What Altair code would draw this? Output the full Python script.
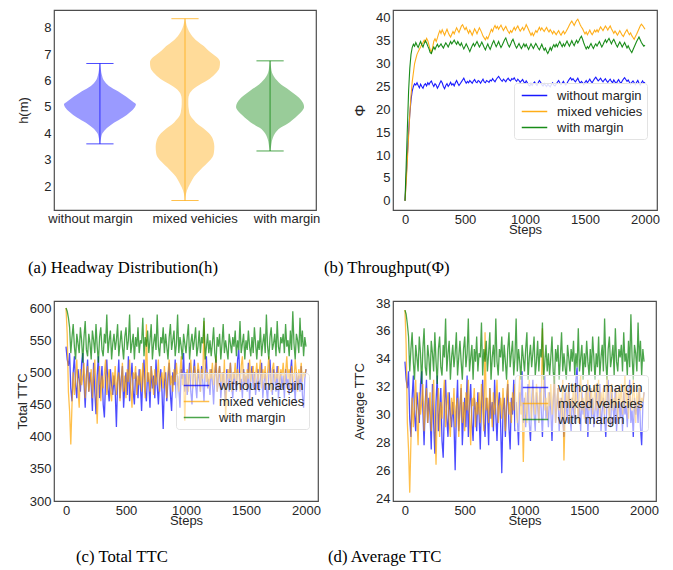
import altair as alt
import pandas as pd

# ---------------- data ----------------
SERIES = ["without margin", "mixed vehicies", "with margin"]
LINE_COLORS = ["#0000ff", "#ffa500", "#008000"]
FILL_COLORS = ["#9a9aff", "#ffdb99", "#99cc99"]
STEPS = list(range(0, 2001, 10))
X_TICKS = [0, 500, 1000, 1500, 2000]

# (a) violin profiles: headway value and relative half-width (density)
VIO_POS = [1, 2, 3]
VIO_LABEL_POS = [0.89, 2.12, 3.2]
VIO_H_BLUE = [3.6, 3.8, 4.0, 4.2, 4.4, 4.6, 4.8, 5.0, 5.1, 5.2, 5.4, 5.6, 5.8, 6.0, 6.2, 6.4, 6.65]
VIO_W_BLUE = [0.3, 1, 2.5, 7, 14, 23, 30, 35, 36, 33, 26, 18, 9, 4, 2, 1, 0.3]
VIO_H_ORANGE = [1.45, 1.7, 1.95, 2.15, 2.35, 2.5, 2.7, 2.9, 3.1, 3.3, 3.5, 3.7, 3.85, 4.0, 4.2,
                4.35, 4.5, 4.7, 4.9, 5.1, 5.3, 5.5, 5.7, 5.85, 6.0, 6.25, 6.5, 6.7, 6.85, 7.0,
                7.15, 7.3, 7.5, 7.75, 8.0, 8.2, 8.35]
VIO_W_ORANGE = [0.3, 1, 3.3, 6, 9, 12.5, 17.5, 23, 27.5, 29, 29.3, 28.5, 27, 24, 18,
                12.5, 9, 5, 3.8, 3.3, 3.3, 4.5, 9, 15, 22, 30, 34.5, 35, 33, 28,
                23, 19, 12, 6, 2.5, 1, 0.3]
VIO_H_GREEN = [3.33, 3.5, 3.7, 3.85, 4.0, 4.2, 4.35, 4.5, 4.7, 4.85, 5.0, 5.15, 5.35, 5.5,
               5.7, 5.85, 6.0, 6.15, 6.3, 6.5, 6.75]
VIO_W_GREEN = [0.3, 1, 1.8, 3, 5, 10, 17, 22, 28, 32, 34, 33, 29, 24, 17, 11, 7, 4, 2, 1, 0.3]
VIO_MIN = [3.6, 1.45, 3.33]
VIO_MAX = [6.65, 8.35, 6.75]

# (b) throughput
THR_BLUE = [
    0, 5, 10, 15, 19, 22, 24, 25, 25.6, 25.3, 25.8, 25.2, 24.7, 25.5, 25.0, 24.6, 25.3, 25.6, 25.1, 25.8,
    25.4, 25.9, 26.2, 25.5, 25.0, 25.6, 25.3, 24.6, 25.1, 25.7, 26.2, 25.8, 25.0, 24.5, 25.2, 25.6, 25.0, 25.4, 25.9, 25.3,
    25.6, 25.1, 25.8, 26.3, 25.7, 25.2, 25.6, 26.0, 26.4, 26.8, 26.2, 25.7, 26.1, 25.8, 26.3, 26.0, 25.7, 26.2, 26.5, 26.0,
    25.8, 26.3, 26.1, 25.7, 26.2, 26.6, 26.0, 25.8, 26.3, 26.1, 25.9, 26.4, 26.2, 26.7, 26.3, 26.0, 26.5, 26.9, 27.2, 26.8,
    26.4, 26.1, 26.6, 26.3, 26.0, 26.5, 26.8, 26.4, 26.2, 26.7, 26.5, 26.9, 26.4, 26.1, 26.6, 26.3, 25.9, 26.2, 26.5, 26.0,
    25.7, 26.2, 25.8, 25.3, 25.1, 25.6, 25.2, 25.7, 26.0, 25.5, 25.2, 25.8, 26.3, 25.9, 25.4, 25.1, 25.6, 25.3, 25.0, 25.5,
    25.2, 24.9, 25.4, 25.8, 25.3, 25.1, 25.5, 25.9, 26.3, 25.8, 25.4, 25.7, 26.1, 25.6, 25.3, 25.7, 26.2, 26.6, 26.9, 26.4,
    26.7, 26.3, 26.0, 26.4, 26.8, 26.2, 25.7, 26.1, 25.8, 25.4, 25.9, 26.3, 25.8, 26.2, 26.6, 26.1, 25.8, 26.3, 26.7, 27.0,
    26.6, 26.2, 26.5, 26.8, 26.3, 26.0, 26.4, 26.7, 26.2, 25.9, 26.3, 26.6, 26.1, 25.8, 26.4, 26.0, 25.6, 26.1, 26.5, 26.0,
    25.7, 26.2, 26.6, 26.9, 26.5, 26.1, 26.4, 25.9, 25.5, 25.9, 26.2, 25.8, 25.4, 25.9, 26.3, 25.7, 25.3, 25.8, 26.2, 25.7,
    25.9]
THR_ORANGE = [
    0, 4, 9, 14, 19, 23, 26, 28, 30, 31, 32, 32.6, 33.1, 33.6, 34.2, 34.6, 35.1, 34.7, 35.5, 35.0,
    34.0, 33.0, 32.4, 33.5, 34.9, 35.4, 34.8, 35.6, 36.5, 37.2, 36.6, 37.4, 36.8, 36.2, 36.9, 37.5, 36.8, 36.2, 35.8, 36.4,
    37.0, 36.5, 37.2, 37.8, 37.3, 36.8, 37.5, 38.2, 38.5, 37.9, 37.4, 37.9, 37.2, 36.6, 37.3, 36.8, 36.2, 36.9, 37.6, 37.1,
    36.5, 37.2, 37.8, 37.3, 36.7, 36.0, 35.6, 35.2, 35.8, 35.4, 36.1, 36.8, 37.5, 37.0, 37.8, 38.3, 37.7, 38.1, 37.5, 38.0,
    38.4, 37.8, 37.2, 37.7, 38.1, 37.5, 37.0, 36.6, 37.2, 36.8, 37.4, 37.9, 37.3, 37.8, 38.2, 37.6, 37.1, 37.5, 37.9, 37.3,
    37.8, 38.5, 38.0, 37.4, 36.8, 36.2, 36.7, 36.1, 36.6, 37.2, 36.8, 37.4, 37.9, 37.3, 37.8, 37.4, 37.0, 37.5, 37.9, 37.3,
    36.9, 37.4, 37.0, 36.5, 37.1, 36.7, 36.3, 36.8, 37.2, 36.6, 36.2, 36.7, 37.1, 36.5, 36.9, 37.4, 37.9, 38.4, 38.9, 39.3,
    38.8, 38.3, 38.9, 39.4, 39.7, 39.1, 38.5, 38.0, 37.6, 37.0, 36.5, 36.9, 36.3, 36.8, 37.3, 36.7, 36.3, 36.8, 37.3, 36.9,
    37.4, 36.9, 37.5, 38.0, 37.6, 37.2, 37.7, 38.2, 37.8, 37.3, 37.8, 38.2, 37.6, 37.1, 36.6, 37.1, 36.7, 36.2, 36.7, 37.2,
    36.7, 36.2, 35.9, 36.5, 37.0, 37.4, 36.8, 36.3, 36.7, 36.1, 35.7, 35.3, 35.9, 36.4, 37.0, 37.6, 38.2, 38.6, 38.3, 37.9,
    37.5]
THR_GREEN = [
    0, 8, 16, 24, 29, 32, 33.5, 34.2, 33.8, 34.6, 34.0, 33.5, 34.2, 34.8, 34.1, 33.6, 34.4, 35.0, 34.5, 33.8,
    33.2, 32.4, 32.2, 33.0, 33.6, 33.1, 33.7, 34.2, 33.6, 33.9, 34.3, 33.8, 33.4, 34.0, 34.5, 34.1, 33.6, 34.2, 34.8, 34.3,
    34.7, 35.1, 34.6, 34.2, 34.8, 34.3, 33.9, 34.5, 33.8, 33.2, 33.7, 34.3, 33.8, 33.2, 32.6, 33.3, 33.9, 34.4, 33.8, 34.3,
    34.8, 34.2, 33.6, 34.1, 34.7, 34.1, 33.5, 33.0, 33.7, 34.3, 33.6, 33.1, 33.8, 34.5, 35.0, 34.3, 33.7, 34.2, 34.8, 34.1,
    33.5, 34.0, 34.6, 35.2, 35.6, 34.8, 34.1, 33.6, 34.2, 34.9, 35.3, 34.6, 33.9, 33.4, 33.9, 34.4, 33.8, 33.3, 33.8, 34.3,
    33.7, 34.2, 33.6, 33.1, 33.7, 34.3, 33.8, 33.3, 33.9, 34.4, 33.9, 33.4, 33.0, 33.6, 34.2, 33.5, 32.9, 33.4, 32.7, 32.2,
    32.8, 33.5, 32.9, 33.6, 34.1, 33.6, 34.2, 33.7, 34.3, 34.8, 34.2, 33.7, 34.3, 33.8, 34.4, 34.9, 34.3, 33.8, 34.4, 35.0,
    34.4, 33.9, 34.6, 35.1, 34.5, 35.0, 35.6, 36.0, 35.3, 34.5, 33.8, 33.2, 33.7, 33.3, 33.9, 34.4, 33.8, 33.3, 33.9, 34.3,
    33.8, 34.3, 34.8, 34.2, 33.6, 34.1, 34.7, 35.2, 34.6, 35.1, 35.5, 34.9, 34.3, 34.9, 35.3, 34.7, 34.1, 33.6, 34.2, 34.7,
    34.2, 33.6, 34.1, 34.6, 34.0, 33.4, 33.9, 33.3, 32.8, 32.4, 33.0, 33.6, 34.2, 34.8, 35.3, 35.8, 35.2, 34.6, 34.2, 33.8,
    34.0]

# (c) total TTC
TOT_BLUE = [
    540, 520, 510, 530, 475, 455, 500, 525, 480, 460, 505, 490, 470, 515, 530, 485, 445, 495, 520, 470,
    500, 480, 440, 515, 470, 435, 495, 525, 460, 485, 510, 450, 430, 490, 520, 475, 455, 505, 480, 465,
    495, 470, 415, 485, 520, 460, 490, 510, 445, 480, 500, 465, 525, 455, 490, 515, 470, 450, 500, 485,
    460, 505, 480, 440, 495, 520, 470, 455, 500, 485, 445, 510, 475, 495, 460, 520, 480, 450, 490, 505,
    470, 412, 485, 500, 455, 490, 515, 465, 440, 500, 480, 520, 460, 495, 475, 445, 505, 490, 530, 470,
    500, 465, 485, 515, 470, 450, 495, 520, 480, 460, 505, 490, 470, 510, 485, 455, 500, 525, 475, 490,
    465, 505, 485, 450, 495, 520, 470, 490, 510, 460, 485, 500, 475, 455, 505, 490, 470, 515, 480, 460,
    500, 485, 470, 520, 535, 475, 490, 460, 505, 480, 495, 470, 515, 455, 490, 510, 475, 500, 465, 485,
    505, 470, 490, 515, 460, 485, 500, 475, 455, 495, 520, 480, 465, 505, 490, 470, 510, 460, 485, 500,
    475, 495, 460, 505, 480, 490, 465, 500, 520, 470, 485, 455, 500, 480, 495, 470, 510, 465, 445, 490,
    505]
TOT_ORANGE = [
    600, 560, 470, 440, 388, 450, 500, 465, 490, 520, 475, 445, 505, 480, 495, 515, 460, 490, 510, 470,
    485, 505, 460, 495, 520, 470, 420, 485, 510, 455, 495, 475, 500, 520, 465, 490, 505, 470, 455, 500,
    480, 510, 465, 490, 500, 455, 485, 515, 470, 495, 460, 505, 485, 520, 475, 445, 500, 490, 510, 465,
    495, 480, 505, 470, 515, 490, 460, 575, 485, 500, 470, 510, 490, 465, 505, 480, 495, 520, 470, 490,
    500, 475, 510, 485, 460, 500, 520, 480, 495, 470, 505, 485, 515, 490, 470, 500, 525, 480, 495, 425,
    485, 505, 470, 500, 520, 490, 475, 510, 495, 480, 515, 500, 470, 505, 490, 580, 510, 485, 500, 475,
    505, 490, 515, 480, 500, 525, 470, 495, 510, 485, 500, 475, 520, 427, 480, 505, 490, 515, 470, 500,
    490, 515, 480, 505, 495, 470, 510, 525, 485, 500, 475, 505, 490, 520, 485, 500, 510, 480, 495, 515,
    485, 500, 520, 475, 505, 490, 510, 480, 500, 525, 495, 470, 505, 515, 485, 500, 490, 510, 475, 505,
    495, 515, 480, 500, 525, 490, 505, 475, 510, 495, 485, 520, 500, 470, 505, 490, 515, 485, 500, 495,
    505]
TOT_GREEN = [
    600, 595, 585, 570, 530, 555, 575, 540, 520, 560, 545, 530, 570, 550, 515, 555, 580, 535, 525, 560,
    545, 520, 565, 550, 530, 575, 540, 515, 555, 570, 535, 525, 560, 545, 590, 530, 550, 565, 520, 545,
    560, 535, 550, 575, 525, 545, 565, 540, 520, 555, 570, 535, 550, 590, 530, 545, 560, 520, 555, 540,
    570, 530, 550, 545, 585, 525, 555, 540, 565, 530, 550, 575, 520, 545, 560, 535, 590, 540, 525, 555,
    545, 570, 530, 560, 540, 520, 555, 575, 535, 550, 565, 525, 545, 590, 530, 555, 540, 520, 560, 545,
    530, 555, 575, 520, 545, 560, 535, 550, 570, 525, 540, 565, 530, 555, 545, 585, 520, 540, 560, 530,
    550, 525, 545, 570, 530, 515, 555, 540, 560, 520, 545, 575, 530, 550, 535, 520, 560, 545, 530, 555,
    540, 565, 525, 550, 535, 580, 530, 545, 560, 520, 550, 535, 565, 540, 525, 555, 530, 570, 545, 520,
    550, 535, 570, 525, 545, 560, 530, 590, 540, 520, 555, 570, 535, 545, 560, 525, 580, 540, 530, 555,
    545, 560, 530, 575, 540, 550, 525, 565, 535, 595, 545, 520, 560, 550, 530, 585, 540, 565, 525, 555,
    540]

# (d) average TTC
AVG_BLUE = [
    33.8, 32.5, 31.9, 33.1, 29.7, 28.4, 31.2, 32.8, 30.0, 28.8, 31.6, 30.6, 29.4, 32.2, 33.1, 30.3, 27.8, 30.9, 32.5, 29.4,
    31.2, 30.0, 27.5, 32.2, 29.4, 27.2, 30.9, 32.8, 28.8, 30.3, 31.9, 28.1, 26.9, 30.6, 32.5, 29.7, 28.4, 31.6, 30.0, 29.1,
    30.9, 29.4, 26.0, 30.3, 32.5, 28.8, 30.6, 31.9, 27.8, 30.0, 31.2, 29.1, 32.8, 28.4, 30.6, 32.2, 29.4, 28.1, 31.2, 30.3,
    28.8, 31.6, 30.0, 27.5, 30.9, 32.5, 29.4, 28.4, 31.2, 30.3, 27.8, 31.9, 29.7, 30.9, 28.8, 32.5, 30.0, 28.1, 30.6, 31.6,
    29.4, 25.8, 30.3, 31.2, 28.4, 30.6, 32.2, 29.1, 27.5, 31.2, 30.0, 32.5, 28.8, 30.9, 29.7, 27.8, 31.6, 30.6, 33.1, 29.4,
    31.2, 29.1, 30.3, 32.2, 29.4, 28.1, 30.9, 32.5, 30.0, 28.8, 31.6, 30.6, 29.4, 31.9, 30.3, 28.4, 31.2, 32.8, 29.7, 30.6,
    29.1, 31.6, 30.3, 28.1, 30.9, 32.5, 29.4, 30.6, 31.9, 28.8, 30.3, 31.2, 29.7, 28.4, 31.6, 30.6, 29.4, 32.2, 30.0, 28.8,
    31.2, 30.3, 29.4, 32.5, 33.4, 29.7, 30.6, 28.8, 31.6, 30.0, 30.9, 29.4, 32.2, 28.4, 30.6, 31.9, 29.7, 31.2, 29.1, 30.3,
    31.6, 29.4, 30.6, 32.2, 28.8, 30.3, 31.2, 29.7, 28.4, 30.9, 32.5, 30.0, 29.1, 31.6, 30.6, 29.4, 31.9, 28.8, 30.3, 31.2,
    29.7, 30.9, 28.8, 31.6, 30.0, 30.6, 29.1, 31.2, 32.5, 29.4, 30.3, 28.4, 31.2, 30.0, 30.9, 29.4, 31.9, 29.1, 27.8, 30.6,
    31.6]
AVG_ORANGE = [
    37.5, 35.0, 29.4, 27.5, 24.4, 28.1, 31.2, 29.1, 30.6, 32.5, 29.7, 27.8, 31.6, 30.0, 30.9, 32.2, 28.8, 30.6, 31.9, 29.4,
    30.3, 31.6, 28.8, 30.9, 32.5, 29.4, 26.4, 30.3, 31.9, 28.4, 30.9, 29.7, 31.2, 32.5, 29.1, 30.6, 31.6, 29.4, 28.4, 31.2,
    30.0, 31.9, 29.1, 30.6, 31.2, 28.4, 30.3, 32.2, 29.4, 30.9, 28.8, 31.6, 30.3, 32.5, 29.7, 27.8, 31.2, 30.6, 31.9, 29.1,
    30.9, 30.0, 31.6, 29.4, 32.2, 30.6, 28.8, 35.9, 30.3, 31.2, 29.4, 31.9, 30.6, 29.1, 31.6, 30.0, 30.9, 32.5, 29.4, 30.6,
    31.2, 29.7, 31.9, 30.3, 28.8, 31.2, 32.5, 30.0, 30.9, 29.4, 31.6, 30.3, 32.2, 30.6, 29.4, 31.2, 32.8, 30.0, 30.9, 26.6,
    30.3, 31.6, 29.4, 31.2, 32.5, 30.6, 29.7, 31.9, 30.9, 30.0, 32.2, 31.2, 29.4, 31.6, 30.6, 36.2, 31.9, 30.3, 31.2, 29.7,
    31.6, 30.6, 32.2, 30.0, 31.2, 32.8, 29.4, 30.9, 31.9, 30.3, 31.2, 29.7, 32.5, 26.7, 30.0, 31.6, 30.6, 32.2, 29.4, 31.2,
    30.6, 32.2, 30.0, 31.6, 30.9, 29.4, 31.9, 32.8, 30.3, 31.2, 29.7, 31.6, 30.6, 32.5, 30.3, 31.2, 31.9, 30.0, 30.9, 32.2,
    30.3, 31.2, 32.5, 29.7, 31.6, 30.6, 31.9, 30.0, 31.2, 32.8, 30.9, 29.4, 31.6, 32.2, 30.3, 31.2, 30.6, 31.9, 29.7, 31.6,
    30.9, 32.2, 30.0, 31.2, 32.8, 30.6, 31.6, 29.7, 31.9, 30.9, 30.3, 32.5, 31.2, 29.4, 31.6, 30.6, 32.2, 30.3, 31.2, 30.9,
    31.6]
AVG_GREEN = [
    37.5, 37.2, 36.5, 35.6, 33.1, 34.7, 35.9, 33.8, 32.5, 35.0, 34.1, 33.1, 35.6, 34.4, 32.2, 34.7, 36.2, 33.4, 32.8, 35.0,
    34.1, 32.5, 35.3, 34.4, 33.1, 35.9, 33.8, 32.2, 34.7, 35.6, 33.4, 32.8, 35.0, 34.1, 36.9, 33.1, 34.4, 35.3, 32.5, 34.1,
    35.0, 33.4, 34.4, 35.9, 32.8, 34.1, 35.3, 33.8, 32.5, 34.7, 35.6, 33.4, 34.4, 36.9, 33.1, 34.1, 35.0, 32.5, 34.7, 33.8,
    35.6, 33.1, 34.4, 34.1, 36.6, 32.8, 34.7, 33.8, 35.3, 33.1, 34.4, 35.9, 32.5, 34.1, 35.0, 33.4, 36.9, 33.8, 32.8, 34.7,
    34.1, 35.6, 33.1, 35.0, 33.8, 32.5, 34.7, 35.9, 33.4, 34.4, 35.3, 32.8, 34.1, 36.9, 33.1, 34.7, 33.8, 32.5, 35.0, 34.1,
    33.1, 34.7, 35.9, 32.5, 34.1, 35.0, 33.4, 34.4, 35.6, 32.8, 33.8, 35.3, 33.1, 34.7, 34.1, 36.6, 32.5, 33.8, 35.0, 33.1,
    34.4, 32.8, 34.1, 35.6, 33.1, 32.2, 34.7, 33.8, 35.0, 32.5, 34.1, 35.9, 33.1, 34.4, 33.4, 32.5, 35.0, 34.1, 33.1, 34.7,
    33.8, 35.3, 32.8, 34.4, 33.4, 36.2, 33.1, 34.1, 35.0, 32.5, 34.4, 33.4, 35.3, 33.8, 32.8, 34.7, 33.1, 35.6, 34.1, 32.5,
    34.4, 33.4, 35.6, 32.8, 34.1, 35.0, 33.1, 36.9, 33.8, 32.5, 34.7, 35.6, 33.4, 34.1, 35.0, 32.8, 36.2, 33.8, 33.1, 34.7,
    34.1, 35.0, 33.1, 35.9, 33.8, 34.4, 32.8, 35.3, 33.4, 37.2, 34.1, 32.5, 35.0, 34.4, 33.1, 36.6, 33.8, 35.3, 32.8, 34.7,
    33.8]

CAPTIONS = ["(a) Headway Distribution(h)", "(b) Throughput(\u03a6)", "(c) Total TTC", "(d) Average TTC"]

# ---------------- styling ----------------
SANS = "Liberation Sans"
SERIF = "Liberation Serif"
TXT = "#262626"


def long_df(arrays):
    rows = []
    for name, arr in zip(SERIES, arrays):
        assert len(arr) == len(STEPS), (name, len(arr))
        for s, v in zip(STEPS, arr):
            rows.append({"step": s, "value": v, "series": name})
    return pd.DataFrame(rows)


def caption_layer(text, cx, cy):
    return alt.Chart(pd.DataFrame({"caption": [text]})).mark_text(
        align="left", baseline="middle", font=SERIF, fontSize=16.7, color="black"
    ).encode(x=alt.value(cx), y=alt.value(cy), text="caption:N")


def ts_panel(df, ydomain, yticks, ytitle, ytitle_size, ytitle_x, caption, cap_x, cap_y,
             leg_x, leg_y, leg_fill, opacity, stroke_w, w, h):
    color = alt.Color(
        "series:N",
        scale=alt.Scale(domain=SERIES, range=LINE_COLORS),
        legend=alt.Legend(
            title=None, orient="none", legendX=leg_x, legendY=leg_y,
            symbolType="M-1.7,0H1.7", symbolSize=225, symbolStrokeWidth=1.5,
            symbolOffset=8, symbolFillColor="transparent",
            labelFont=SANS, labelFontSize=13, labelColor=TXT, labelOffset=14,
            padding=4, rowPadding=0, fillColor=leg_fill, strokeColor="#e3e3e3",
            cornerRadius=3,
        ),
    )
    base = alt.Chart(df).mark_line(strokeWidth=stroke_w, opacity=opacity).encode(
        x=alt.X("step:Q", scale=alt.Scale(domain=[-100, 2100], nice=False, zero=False),
                axis=alt.Axis(values=X_TICKS, format="d", title="Steps", titleX=w / 2, titleY=19.5,
                              titleBaseline="middle", titleFontWeight="normal")),
        y=alt.Y("value:Q", scale=alt.Scale(domain=ydomain, nice=False, zero=False),
                axis=alt.Axis(values=yticks, title=ytitle, titleFontSize=ytitle_size,
                              titleFontWeight="normal",
                              titleX=ytitle_x, titleY=h / 2, titleBaseline="middle",
                              titleAngle=-90)),
        color=color,
    )
    layers = [base.transform_filter(alt.datum.series == s) for s in SERIES]
    return alt.layer(*layers, caption_layer(caption, cap_x, cap_y)).properties(width=w, height=h)


# ---------------- (a) violin ----------------
vio_rows = []
for cat, pos, hs, ws in zip(SERIES, VIO_POS, [VIO_H_BLUE, VIO_H_ORANGE, VIO_H_GREEN],
                            [VIO_W_BLUE, VIO_W_ORANGE, VIO_W_GREEN]):
    for hv, wv in zip(hs, ws):
        vio_rows.append({"cat": cat, "pos": pos, "h": hv, "w": wv})
vio_df = pd.DataFrame(vio_rows)
ext_df = pd.DataFrame({"cat": SERIES, "pos": VIO_POS, "hmin": VIO_MIN, "hmax": VIO_MAX})
lab_df = pd.DataFrame({"cat": SERIES, "x": VIO_LABEL_POS})

WA, HA = 262, 200
x_scale_a = alt.Scale(domain=[0.46, 3.54], nice=False, zero=False)
xa = alt.X("x:Q", scale=x_scale_a, axis=alt.Axis(values=VIO_POS, labels=False, title=None))
ya_scale = alt.Scale(domain=[1.09, 8.68], nice=False, zero=False)
ya_axis = alt.Axis(values=[2, 3, 4, 5, 6, 7, 8], title="h(m)", titleX=-31, titleY=HA / 2,
                   titleBaseline="middle", titleAngle=-90, titleFontWeight="normal")

areas = alt.Chart(vio_df).transform_calculate(
    x="datum.pos - datum.w / 85", x2="datum.pos + datum.w / 85"
).mark_area(orient="horizontal", interpolate="monotone", opacity=1).encode(
    y=alt.Y("h:Q", scale=ya_scale, axis=ya_axis),
    x=xa,
    x2="x2:Q",
    fill=alt.Fill("cat:N", scale=alt.Scale(domain=SERIES, range=FILL_COLORS), legend=None),
    detail="cat:N",
)
stroke_enc = alt.Stroke("cat:N", scale=alt.Scale(domain=SERIES, range=LINE_COLORS), legend=None)
center = alt.Chart(ext_df).transform_calculate(x="datum.pos").mark_rule(
    strokeWidth=1, opacity=0.7).encode(
    x=xa, y=alt.Y("hmin:Q", scale=ya_scale, axis=ya_axis), y2="hmax:Q", stroke=stroke_enc)
cap_lo = alt.Chart(ext_df).transform_calculate(
    x="datum.pos - 0.16", x2="datum.pos + 0.16").mark_rule(strokeWidth=1, opacity=0.7).encode(
    x=xa, x2="x2:Q", y=alt.Y("hmin:Q", scale=ya_scale, axis=ya_axis), stroke=stroke_enc)
cap_hi = alt.Chart(ext_df).transform_calculate(
    x="datum.pos - 0.16", x2="datum.pos + 0.16").mark_rule(strokeWidth=1, opacity=0.7).encode(
    x=xa, x2="x2:Q", y=alt.Y("hmax:Q", scale=ya_scale, axis=ya_axis), stroke=stroke_enc)
cat_labels = alt.Chart(lab_df).mark_text(
    font=SANS, fontSize=13, color=TXT, baseline="middle", align="center"
).encode(x=alt.X("x:Q", scale=x_scale_a), y=alt.value(HA + 9), text="cat:N")

violin = alt.layer(areas, center, cap_lo, cap_hi, cat_labels,
                   caption_layer(CAPTIONS[0], -26, 258)).properties(width=WA, height=HA)

# ---------------- (b)-(d) ----------------
thr = ts_panel(long_df([THR_BLUE, THR_ORANGE, THR_GREEN]), [-2, 41.7], [0, 5, 10, 15, 20, 25, 30, 35, 40],
               "\u03a6", 15, -34, CAPTIONS[1], -69, 258, 121, 73, "rgba(255,255,255,0.85)", 0.9, 1.1, 264, 200)
tot = ts_panel(long_df([TOT_BLUE, TOT_ORANGE, TOT_GREEN]), [300, 611], [300, 350, 400, 450, 500, 550, 600],
               "Total TTC", 13, -32, CAPTIONS[2], 22, 256, 122, 72, "rgba(255,255,255,0.5)", 0.7, 1.3, 264, 200)
avg = ts_panel(long_df([AVG_BLUE, AVG_ORANGE, AVG_GREEN]), [23.8, 38.15], [24, 26, 28, 30, 32, 34, 36, 38],
               "Average TTC", 13, -34, CAPTIONS[3], -65, 256, 122, 74, "rgba(255,255,255,0.5)", 0.7, 1.3, 263, 200)

chart = alt.concat(
    violin, thr, tot, avg, columns=2, spacing={"row": 91, "column": 75}, bounds="flush"
).resolve_scale(
    color="independent", fill="independent", stroke="independent"
).properties(
    padding={"left": 7, "top": 1, "right": 0, "bottom": 0}, background="white"
).configure_view(
    stroke="#4d4d4d", strokeWidth=1.2
).configure_axis(
    domain=False, ticks=False, grid=False,
    labelFont=SANS, labelFontSize=13, labelColor=TXT, labelPadding=3,
    titleFont=SANS, titleFontSize=13, titleColor=TXT, titleFontWeight="normal",
)

chart.save("out.html", embed_options={"renderer": "svg", "actions": False})
